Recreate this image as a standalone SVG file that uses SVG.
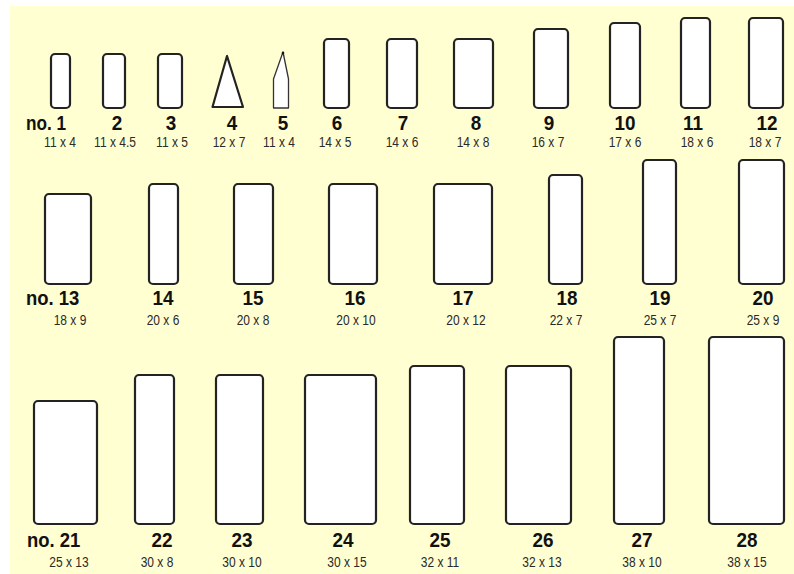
<svg xmlns="http://www.w3.org/2000/svg" width="794" height="574" viewBox="0 0 794 574">
<style>
.bg{fill:#FFFFD2}
.s{fill:#FFFFFF;stroke:#232323;stroke-width:2.2;stroke-linejoin:round}
.n{font-family:"Liberation Sans",Arial,sans-serif;font-weight:bold;font-size:21px;fill:#111;text-anchor:middle}
.nl{font-family:"Liberation Sans",Arial,sans-serif;font-weight:bold;font-size:21px;fill:#111;text-anchor:start}
.d{font-family:"Liberation Sans",Arial,sans-serif;font-size:15px;fill:#2a2a2a;text-anchor:middle}
</style>
<rect width="794" height="574" fill="#FFFFFF"/>
<rect class="bg" x="10" y="6" width="784" height="568"/>
<g id="node1"><rect class="s" x="51" y="54" width="19" height="54" rx="4"/><text class="nl" transform="translate(26 130) scale(0.82 1)">no. 1</text><text class="d" transform="translate(60 147) scale(0.8 1)">11 x 4</text></g>
<g id="node2"><rect class="s" x="103" y="54" width="22" height="54" rx="4"/><text class="n" transform="translate(117 130) scale(0.9 1)">2</text><text class="d" transform="translate(115 147) scale(0.8 1)">11 x 4.5</text></g>
<g id="node3"><rect class="s" x="158" y="54" width="24" height="54" rx="4"/><text class="n" transform="translate(171 130) scale(0.9 1)">3</text><text class="d" transform="translate(172 147) scale(0.8 1)">11 x 5</text></g>
<g id="node4"><path class="s" d="M227 56 L212.5 107 L243 107 Z" stroke-width="2.4"/><text class="n" transform="translate(232 130) scale(0.9 1)">4</text><text class="d" transform="translate(229 147) scale(0.8 1)">12 x 7</text></g>
<g id="node5"><path d="M283 52 L273.5 79 L273.5 108 L288.5 108 L288.5 79 Z" fill="#FFFFFF" stroke="#333" stroke-width="1.3" stroke-linejoin="round"/><circle cx="283" cy="53" r="1.3" fill="#111"/><text class="n" transform="translate(283 130) scale(0.9 1)">5</text><text class="d" transform="translate(279 147) scale(0.8 1)">11 x 4</text></g>
<g id="node6"><rect class="s" x="324" y="39" width="25" height="69" rx="4"/><text class="n" transform="translate(337 130) scale(0.9 1)">6</text><text class="d" transform="translate(335 147) scale(0.8 1)">14 x 5</text></g>
<g id="node7"><rect class="s" x="387" y="39" width="30" height="69" rx="4"/><text class="n" transform="translate(403 130) scale(0.9 1)">7</text><text class="d" transform="translate(402 147) scale(0.8 1)">14 x 6</text></g>
<g id="node8"><rect class="s" x="454" y="39" width="39" height="69" rx="4"/><text class="n" transform="translate(476 130) scale(0.9 1)">8</text><text class="d" transform="translate(473 147) scale(0.8 1)">14 x 8</text></g>
<g id="node9"><rect class="s" x="534" y="29" width="34" height="79" rx="4"/><text class="n" transform="translate(549 130) scale(0.9 1)">9</text><text class="d" transform="translate(548 147) scale(0.8 1)">16 x 7</text></g>
<g id="node10"><rect class="s" x="610" y="23" width="30" height="85" rx="4"/><text class="n" transform="translate(625 130) scale(0.9 1)">10</text><text class="d" transform="translate(625 147) scale(0.8 1)">17 x 6</text></g>
<g id="node11"><rect class="s" x="681" y="18" width="29" height="90" rx="4"/><text class="n" transform="translate(693 130) scale(0.9 1)">11</text><text class="d" transform="translate(697 147) scale(0.8 1)">18 x 6</text></g>
<g id="node12"><rect class="s" x="749" y="18" width="34" height="90" rx="4"/><text class="n" transform="translate(767 130) scale(0.9 1)">12</text><text class="d" transform="translate(765 147) scale(0.8 1)">18 x 7</text></g>
<g id="node13"><rect class="s" x="45" y="194" width="46" height="90" rx="4"/><text class="nl" transform="translate(26 305) scale(0.88 1)">no. 13</text><text class="d" transform="translate(70 325) scale(0.8 1)">18 x 9</text></g>
<g id="node14"><rect class="s" x="149" y="184" width="29" height="100" rx="4"/><text class="n" transform="translate(163 305) scale(0.9 1)">14</text><text class="d" transform="translate(163 325) scale(0.8 1)">20 x 6</text></g>
<g id="node15"><rect class="s" x="234" y="184" width="39" height="100" rx="4"/><text class="n" transform="translate(253 305) scale(0.9 1)">15</text><text class="d" transform="translate(253 325) scale(0.8 1)">20 x 8</text></g>
<g id="node16"><rect class="s" x="329" y="184" width="48" height="100" rx="4"/><text class="n" transform="translate(355 305) scale(0.9 1)">16</text><text class="d" transform="translate(356 325) scale(0.8 1)">20 x 10</text></g>
<g id="node17"><rect class="s" x="434" y="184" width="58" height="100" rx="4"/><text class="n" transform="translate(463 305) scale(0.9 1)">17</text><text class="d" transform="translate(466 325) scale(0.8 1)">20 x 12</text></g>
<g id="node18"><rect class="s" x="549" y="175" width="33" height="109" rx="4"/><text class="n" transform="translate(567 305) scale(0.9 1)">18</text><text class="d" transform="translate(566 325) scale(0.8 1)">22 x 7</text></g>
<g id="node19"><rect class="s" x="643" y="160" width="33" height="124" rx="4"/><text class="n" transform="translate(660 305) scale(0.9 1)">19</text><text class="d" transform="translate(660 325) scale(0.8 1)">25 x 7</text></g>
<g id="node20"><rect class="s" x="739" y="160" width="45" height="124" rx="4"/><text class="n" transform="translate(763 305) scale(0.9 1)">20</text><text class="d" transform="translate(763 325) scale(0.8 1)">25 x 9</text></g>
<g id="node21"><rect class="s" x="34" y="401" width="63" height="123" rx="4"/><text class="nl" transform="translate(27 547) scale(0.88 1)">no. 21</text><text class="d" transform="translate(69 567) scale(0.8 1)">25 x 13</text></g>
<g id="node22"><rect class="s" x="135" y="375" width="39" height="149" rx="4"/><text class="n" transform="translate(162 547) scale(0.9 1)">22</text><text class="d" transform="translate(157 567) scale(0.8 1)">30 x 8</text></g>
<g id="node23"><rect class="s" x="216" y="375" width="47" height="149" rx="4"/><text class="n" transform="translate(242 547) scale(0.9 1)">23</text><text class="d" transform="translate(242 567) scale(0.8 1)">30 x 10</text></g>
<g id="node24"><rect class="s" x="305" y="375" width="71" height="149" rx="4"/><text class="n" transform="translate(343 547) scale(0.9 1)">24</text><text class="d" transform="translate(347 567) scale(0.8 1)">30 x 15</text></g>
<g id="node25"><rect class="s" x="410" y="366" width="54" height="158" rx="4"/><text class="n" transform="translate(440 547) scale(0.9 1)">25</text><text class="d" transform="translate(440 567) scale(0.8 1)">32 x 11</text></g>
<g id="node26"><rect class="s" x="506" y="366" width="65" height="158" rx="4"/><text class="n" transform="translate(543 547) scale(0.9 1)">26</text><text class="d" transform="translate(542 567) scale(0.8 1)">32 x 13</text></g>
<g id="node27"><rect class="s" x="614" y="337" width="50" height="187" rx="4"/><text class="n" transform="translate(642 547) scale(0.9 1)">27</text><text class="d" transform="translate(642 567) scale(0.8 1)">38 x 10</text></g>
<g id="node28"><rect class="s" x="709" y="337" width="75" height="187" rx="4"/><text class="n" transform="translate(747 547) scale(0.9 1)">28</text><text class="d" transform="translate(747 567) scale(0.8 1)">38 x 15</text></g>
<g id="connectors"></g>
</svg>
